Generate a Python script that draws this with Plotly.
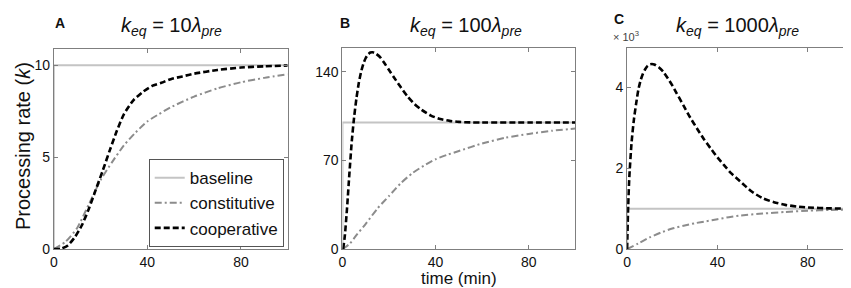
import plotly.graph_objects as go

W, H = 851, 288

# ---------------- data ----------------
# Panel A: k_eq = 10 lambda_pre
t_base_A = [0, 0, 100]
v_base_A = [0, 10, 10]
t_const_A = [0, 5, 10, 15, 20, 25, 30, 35, 40, 45, 50, 60, 70, 80, 90, 100]
v_const_A = [0, 0.4, 1.15, 2.45, 3.75, 4.75, 5.65, 6.35, 6.95, 7.35, 7.72, 8.3, 8.75, 9.08, 9.32, 9.52]
t_coop_A = [0, 3, 6, 9, 12, 15, 18, 21, 24, 27, 30, 34, 38, 42, 46, 50, 55, 60, 70, 80, 90, 100]
v_coop_A = [0, 0.02, 0.2, 0.65, 1.3, 2.2, 3.25, 4.3, 5.4, 6.45, 7.35, 8.1, 8.55, 8.88, 9.05, 9.25, 9.4, 9.55, 9.75, 9.88, 9.95, 9.99]

# Panel B: k_eq = 100 lambda_pre
t_base_B = [0, 0, 100]
v_base_B = [0, 100, 100]
t_const_B = [0, 3, 6, 10, 15, 20, 25, 30, 35, 40, 45, 50, 60, 70, 80, 90, 100]
v_const_B = [0, 4, 11, 20, 32, 42, 52, 60, 66, 71, 74.5, 77.5, 83.5, 88, 91, 93.5, 95.2]
t_coop_B = [0.3, 1, 2, 3, 4, 5, 6, 7, 8, 9, 10, 11, 12, 13, 14, 16, 18, 20, 22, 25, 28, 31, 34, 38, 42, 46, 50, 55, 60, 80, 100]
v_coop_B = [0, 10, 33, 60, 85, 104, 119, 131, 140, 146.5, 151, 153.8, 155.3, 155.5, 154.8, 152, 147, 141.5, 136, 128, 120.5, 114.5, 110, 105.5, 102.8, 101.3, 100.5, 100.1, 100, 100, 100]

# Panel C: k_eq = 1000 lambda_pre
t_base_C = [0, 0, 100]
v_base_C = [0, 1000, 1000]
t_const_C = [0, 5, 10, 15, 20, 25, 30, 35, 40, 45, 50, 60, 70, 80, 90, 100]
v_const_C = [0, 140, 290, 410, 510, 580, 640, 690, 740, 790, 830, 880, 920, 950, 970, 980]
t_coop_C = [0, 0.5, 1, 2, 3, 4, 5, 6, 7, 8, 9, 10, 11, 12, 14, 16, 18, 20, 22, 25, 28, 31, 34, 37,
            40, 43, 46, 50, 55, 60, 65, 70, 75, 80, 90, 100]
v_coop_C = [0, 1100, 1800, 2650, 3200, 3600, 3950, 4180, 4340, 4450, 4530, 4570, 4580, 4570, 4500,
            4390, 4230, 4050, 3850, 3550, 3250, 2980, 2720, 2490, 2270, 2070, 1880, 1680, 1430, 1260,
            1160, 1095, 1055, 1030, 1008, 1000]

x_ticks = [0, 40, 80]
y_ticks_A = [0, 5, 10]
y_ticks_B = [0, 70, 140]
y_ticks_C = [0, 2000, 4000]
y_ticklabels_C = ["0", "2", "4"]

names = ["baseline", "constitutive", "cooperative"]
panel_titles = ["<i>k</i><sub><i>eq</i></sub> = 10<i>λ</i><sub><i>pre</i></sub>",
                "<i>k</i><sub><i>eq</i></sub> = 100<i>λ</i><sub><i>pre</i></sub>",
                "<i>k</i><sub><i>eq</i></sub> = 1000<i>λ</i><sub><i>pre</i></sub>"]
panel_letters = ["A", "B", "C"]

# ---------------- styling ----------------
FONT = "Liberation Sans"
styles = [
    dict(color="#c4c4c4", width=2, dash="solid"),
    dict(color="#8c8c8c", width=2, dash="7px,3px,2px,3px"),
    dict(color="#000000", width=2.6, dash="6px,3px"),
]

# plot areas in pixels (left, right, top, bottom)
boxes = [(42, 277, 42, 248), (332, 566, 41, 248), (618, 845, 41, 248)]

fig = go.Figure()

panels = [
    ((t_base_A, v_base_A), (t_const_A, v_const_A), (t_coop_A, v_coop_A)),
    ((t_base_B, v_base_B), (t_const_B, v_const_B), (t_coop_B, v_coop_B)),
    ((t_base_C, v_base_C), (t_const_C, v_const_C), (t_coop_C, v_coop_C)),
]

for p, series in enumerate(panels):
    xa = "x" if p == 0 else f"x{p+1}"
    ya = "y" if p == 0 else f"y{p+1}"
    for s, (tx, vy) in enumerate(series):
        st = styles[s]
        fig.add_trace(go.Scatter(
            x=tx, y=vy, mode="lines", name=names[s],
            line=dict(color=st["color"], width=st["width"], dash=st["dash"],
                      shape="linear" if s == 0 else "spline", smoothing=0.6),
            showlegend=(p == 0), xaxis=xa, yaxis=ya, hoverinfo="skip",
        ))

axis_common = dict(showline=True, linecolor="#7f7f7f", linewidth=1, mirror="ticks",
                   ticks="inside", ticklen=4, tickcolor="#7f7f7f", showgrid=False,
                   zeroline=False, tickfont=dict(family=FONT, size=14, color="#111"))

yranges = [[0, 10.9], [0, 159], [0, 4980]]
yticks = [y_ticks_A, y_ticks_B, y_ticks_C]
ytext = [None, None, y_ticklabels_C]

layout = dict(width=W, height=H, margin=dict(l=0, r=0, t=0, b=0),
              paper_bgcolor="white", plot_bgcolor="white",
              font=dict(family=FONT, color="#111"))

for p, (l, r, t, b) in enumerate(boxes):
    sx = "xaxis" if p == 0 else f"xaxis{p+1}"
    sy = "yaxis" if p == 0 else f"yaxis{p+1}"
    xa = "x" if p == 0 else f"x{p+1}"
    ya = "y" if p == 0 else f"y{p+1}"
    layout[sx] = dict(axis_common, domain=[l / W, r / W], range=[0, 100],
                      tickvals=x_ticks, anchor=ya)
    yd = dict(axis_common, domain=[1 - b / H, 1 - t / H], range=yranges[p],
              tickvals=yticks[p], anchor=xa)
    if ytext[p] is not None:
        yd["ticktext"] = ytext[p]
    layout[sy] = yd

fig.update_layout(**layout)

fig.update_layout(legend=dict(
    x=273 / W, y=1 - 246 / H, xanchor="right", yanchor="bottom",
    bgcolor="white", bordercolor="#555", borderwidth=1,
    font=dict(family=FONT, size=17, color="#111"),
    tracegroupgap=0, itemwidth=30,
))

ann = []
title_cx = [160, 456, 729]
letter_pos = [(48, 15), (335, 15), (610, 11)]
for p in range(3):
    ann.append(dict(text=panel_titles[p], x=title_cx[p] / W, y=1 - 19 / H,
                    xref="paper", yref="paper", showarrow=False,
                    font=dict(family=FONT, size=20, color="#111"),
                    xanchor="center", yanchor="middle"))
    lx, ly = letter_pos[p]
    ann.append(dict(text=f"<b>{panel_letters[p]}</b>", x=lx / W, y=1 - ly / H,
                    xref="paper", yref="paper", showarrow=False,
                    font=dict(family=FONT, size=14, color="#111"),
                    xanchor="center", yanchor="middle"))
ann.append(dict(text="× 10<sup>3</sup>", x=617 / W, y=1 - 29 / H, xref="paper", yref="paper",
                showarrow=False, font=dict(family=FONT, size=11, color="#444"),
                xanchor="center", yanchor="middle"))
ann.append(dict(text="Processing rate (<i>k</i>)", x=11 / W, y=1 - 142 / H, xref="paper", yref="paper",
                showarrow=False, textangle=-90,
                font=dict(family=FONT, size=20, color="#111"),
                xanchor="center", yanchor="middle"))
ann.append(dict(text="time (min)", x=449 / W, y=1 - 278 / H, xref="paper", yref="paper",
                showarrow=False, font=dict(family=FONT, size=17, color="#111"),
                xanchor="center", yanchor="middle"))
fig.update_layout(annotations=ann)

fig.write_html("out.html")
